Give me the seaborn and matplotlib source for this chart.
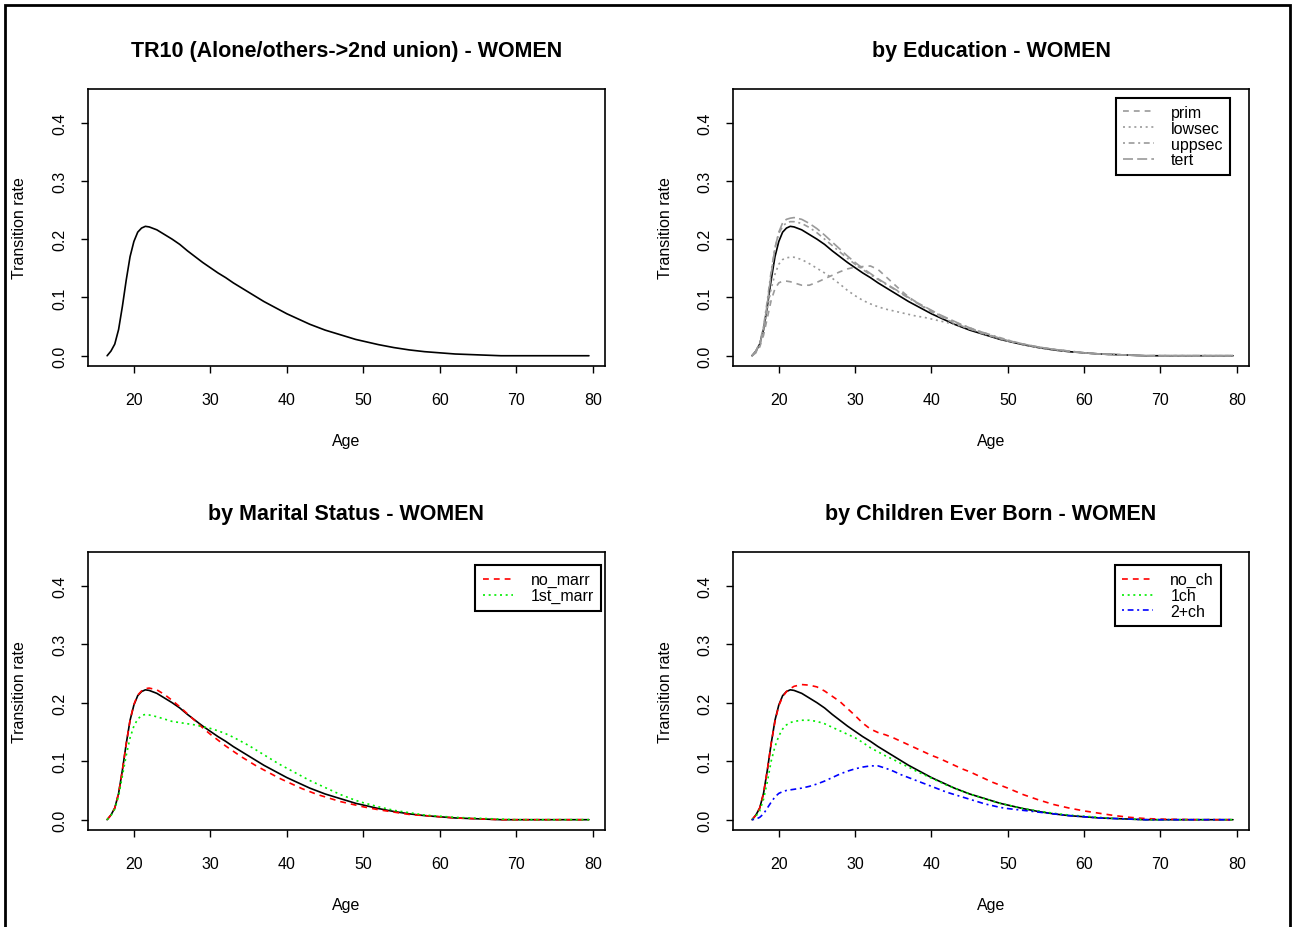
import numpy as np
import pandas as pd
import matplotlib
matplotlib.use("Agg")
import matplotlib.pyplot as plt
from matplotlib.patches import Rectangle
from matplotlib.lines import Line2D
import seaborn as sns

# ---------------- data ----------------
ages = [16.5, 17, 17.5, 18, 18.5, 19, 19.5, 20, 20.5, 21, 21.5, 22,
        23, 24, 25, 26, 27, 28, 29, 30, 31, 32, 33, 34, 35, 36, 37, 38, 39, 40,
        41, 42, 43, 44, 45, 46, 47, 48, 49, 50,
        52, 54, 56, 58, 60, 62, 64, 66, 68, 70, 75, 79.5]

total = [0.000, 0.008, 0.020, 0.045, 0.085, 0.130, 0.170, 0.196, 0.212, 0.219, 0.222, 0.221,
         0.216, 0.208, 0.200, 0.191, 0.180, 0.170, 0.160, 0.151, 0.142, 0.134, 0.125, 0.117,
         0.109, 0.101, 0.093, 0.086, 0.079, 0.072, 0.066, 0.060, 0.054, 0.049, 0.044, 0.040,
         0.036, 0.032, 0.028, 0.025, 0.019, 0.014, 0.010, 0.007, 0.005, 0.003, 0.002, 0.001,
         0.000, 0.000, 0.000, 0.000]

edu_prim = [0.000, 0.005, 0.015, 0.035, 0.065, 0.095, 0.115, 0.125, 0.128, 0.128, 0.127, 0.125,
            0.121, 0.121, 0.126, 0.132, 0.138, 0.144, 0.149, 0.152, 0.153, 0.154, 0.148, 0.136,
            0.124, 0.112, 0.101, 0.092, 0.083, 0.075, 0.068, 0.062, 0.056, 0.051, 0.046, 0.041,
            0.037, 0.033, 0.029, 0.026, 0.020, 0.015, 0.011, 0.008, 0.005, 0.003, 0.002, 0.001,
            0.000, 0.000, 0.000, 0.000]
edu_lowsec = [0.000, 0.006, 0.018, 0.042, 0.080, 0.115, 0.140, 0.157, 0.165, 0.168, 0.169, 0.169,
              0.165, 0.158, 0.150, 0.142, 0.133, 0.123, 0.112, 0.103, 0.095, 0.089, 0.084, 0.080,
              0.077, 0.074, 0.071, 0.068, 0.066, 0.063, 0.060, 0.057, 0.054, 0.050, 0.046, 0.042,
              0.037, 0.033, 0.029, 0.025, 0.019, 0.014, 0.010, 0.007, 0.005, 0.003, 0.002, 0.001,
              0.000, 0.000, 0.000, 0.000]
edu_uppsec = [0.000, 0.008, 0.022, 0.050, 0.095, 0.145, 0.185, 0.210, 0.222, 0.228, 0.230, 0.230,
              0.227, 0.220, 0.211, 0.200, 0.189, 0.178, 0.167, 0.157, 0.148, 0.139, 0.131, 0.123,
              0.115, 0.107, 0.099, 0.091, 0.084, 0.077, 0.070, 0.064, 0.058, 0.053, 0.048, 0.043,
              0.039, 0.035, 0.031, 0.027, 0.020, 0.015, 0.011, 0.008, 0.005, 0.003, 0.002, 0.001,
              0.000, 0.000, 0.000, 0.000]
edu_tert = [0.000, 0.008, 0.020, 0.045, 0.090, 0.140, 0.185, 0.212, 0.228, 0.234, 0.236, 0.237,
            0.234, 0.227, 0.218, 0.207, 0.195, 0.183, 0.171, 0.160, 0.150, 0.141, 0.132, 0.124,
            0.116, 0.108, 0.100, 0.092, 0.085, 0.078, 0.071, 0.065, 0.059, 0.053, 0.048, 0.043,
            0.039, 0.034, 0.030, 0.026, 0.020, 0.015, 0.011, 0.008, 0.005, 0.003, 0.002, 0.001,
            0.000, 0.000, 0.000, 0.000]

mar_no = [0.000, 0.008, 0.020, 0.045, 0.085, 0.130, 0.170, 0.197, 0.213, 0.220, 0.224, 0.225,
          0.222, 0.214, 0.204, 0.193, 0.181, 0.169, 0.157, 0.146, 0.136, 0.126, 0.117, 0.108,
          0.100, 0.092, 0.085, 0.078, 0.071, 0.065, 0.059, 0.053, 0.048, 0.043, 0.039, 0.035,
          0.031, 0.028, 0.025, 0.022, 0.017, 0.013, 0.009, 0.007, 0.005, 0.003, 0.002, 0.001,
          0.000, 0.000, 0.000, 0.000]
mar_first = [0.000, 0.007, 0.018, 0.040, 0.075, 0.110, 0.140, 0.160, 0.172, 0.178, 0.180, 0.179,
             0.176, 0.172, 0.168, 0.166, 0.164, 0.162, 0.159, 0.156, 0.152, 0.147, 0.141, 0.134,
             0.127, 0.119, 0.111, 0.103, 0.095, 0.088, 0.081, 0.074, 0.067, 0.061, 0.055, 0.049,
             0.043, 0.038, 0.033, 0.029, 0.022, 0.016, 0.012, 0.008, 0.006, 0.004, 0.003, 0.002,
             0.001, 0.000, 0.000, 0.000]

ch_no = [0.000, 0.008, 0.020, 0.045, 0.085, 0.130, 0.168, 0.195, 0.210, 0.219, 0.224, 0.228,
         0.231, 0.230, 0.227, 0.220, 0.211, 0.202, 0.190, 0.178, 0.165, 0.155, 0.149, 0.145,
         0.140, 0.134, 0.128, 0.122, 0.116, 0.110, 0.105, 0.099, 0.093, 0.087, 0.082, 0.076,
         0.070, 0.064, 0.059, 0.054, 0.043, 0.034, 0.026, 0.020, 0.015, 0.011, 0.007, 0.004,
         0.002, 0.001, 0.000, 0.000]
ch_one = [0.000, 0.006, 0.015, 0.035, 0.065, 0.100, 0.125, 0.143, 0.155, 0.162, 0.166, 0.168,
          0.170, 0.170, 0.168, 0.164, 0.158, 0.152, 0.146, 0.140, 0.132, 0.123, 0.116, 0.109,
          0.103, 0.096, 0.090, 0.083, 0.077, 0.071, 0.065, 0.059, 0.054, 0.049, 0.044, 0.040,
          0.036, 0.032, 0.028, 0.025, 0.019, 0.015, 0.011, 0.008, 0.006, 0.004, 0.002, 0.001,
          0.000, 0.000, 0.000, 0.000]
ch_two = [0.000, 0.001, 0.004, 0.010, 0.020, 0.030, 0.039, 0.045, 0.048, 0.050, 0.051, 0.052,
          0.054, 0.057, 0.061, 0.066, 0.072, 0.078, 0.083, 0.087, 0.090, 0.092, 0.092, 0.088,
          0.083, 0.077, 0.072, 0.067, 0.062, 0.057, 0.052, 0.047, 0.043, 0.039, 0.035, 0.031,
          0.027, 0.024, 0.021, 0.019, 0.016, 0.013, 0.010, 0.007, 0.005, 0.003, 0.002, 0.001,
          0.000, 0.000, 0.000, 0.000]

titles = ["TR10 (Alone/others->2nd union) - WOMEN", "by Education - WOMEN",
          "by Marital Status - WOMEN", "by Children Ever Born - WOMEN"]
edu_labels = ["prim", "lowsec", "uppsec", "tert"]
mar_labels = ["no_marr", "1st_marr"]
ch_labels = ["no_ch", "1ch", "2+ch"]
x_ticks = [20, 30, 40, 50, 60, 70, 80]
y_ticks = [0.0, 0.1, 0.2, 0.3, 0.4]

# ---------------- styling ----------------
sns.set_style("white")
plt.rcParams['font.family'] = ['Liberation Sans', 'DejaVu Sans']
plt.rcParams['text.color'] = 'black'
plt.rcParams['axes.labelcolor'] = 'black'
plt.rcParams['xtick.color'] = 'black'
plt.rcParams['ytick.color'] = 'black'

W, H = 1295, 928
fig = plt.figure(figsize=(W / 100, H / 100), dpi=100)

LW = 1.2
ls_dash = (0, (3.5, 3.0))
ls_dot = (0, (1.2, 2.2))
ls_dotdash = (0, (1.2, 2.2, 3.5, 2.2))
ls_long = (0, (6.0, 2.5))
GRAY = "#9a9a9a"

def px_axes(l, t, r, b):
    return fig.add_axes([l / W, 1 - b / H, (r - l) / W, (b - t) / H])

boxes = [(88, 90, 605, 367), (733, 90, 1249, 367),
         (88, 553, 605, 831), (733, 553, 1249, 831)]
axes = [px_axes(*b) for b in boxes]

def style_axis(ax, box, title):
    ax.set_xlim(14.0, 81.6)
    ax.set_ylim(-0.0176, 0.4576)
    ax.set_xticks(x_ticks)
    ax.set_xticklabels([str(v) for v in x_ticks])
    ax.set_yticks(y_ticks)
    ax.set_yticklabels(["%.1f" % v for v in y_ticks], rotation=90, va="center")
    ax.tick_params(axis="both", direction="out", length=5, width=1.0,
                   colors="black", labelsize=11.5, left=True, bottom=True)
    ax.tick_params(axis="x", pad=14)
    ax.tick_params(axis="y", pad=10)
    for s in ax.spines.values():
        s.set_color("black")
        s.set_linewidth(1.2)
        s.set_visible(True)
    ax.set_xlabel("")
    ax.set_ylabel("")
    l, t, r, b = box
    cx = (l + r) / 2
    fig.text(cx / W, 1 - (t - 38) / H, title, ha="center", va="center",
             fontsize=15.5, fontweight="bold", color="black")
    fig.text(cx / W, 1 - (b + 75) / H, "Age", ha="center", va="center",
             fontsize=11.5, color="black")
    fig.text((l - 68) / W, 1 - ((t + b) / 2) / H, "Transition rate", ha="center",
             va="center", rotation=90, fontsize=11.5, color="black")

def draw(ax, y, color, ls, lw=LW):
    sns.lineplot(x=ages, y=y, ax=ax, color=color, linestyle=ls, linewidth=lw,
                 estimator=None, sort=False, legend=False)

def add_legend(ax, labels, colors, styles, anchor):
    handles = [Line2D([0], [0], color=c, linestyle=s, linewidth=LW) for c, s in zip(colors, styles)]
    leg = ax.legend(handles, labels, loc="upper right", bbox_to_anchor=anchor,
                    frameon=True, fancybox=False, edgecolor="black", fontsize=11.5,
                    handlelength=1.9, handletextpad=1.1, labelspacing=0.05,
                    borderpad=0.45, borderaxespad=0.0)
    leg.get_frame().set_linewidth(1.5)
    leg.get_frame().set_alpha(1)
    for txt in leg.get_texts():
        txt.set_color("black")

# Panel 1
ax = axes[0]
draw(ax, total, "black", "-")
style_axis(ax, boxes[0], titles[0])

# Panel 2
ax = axes[1]
edu_series = [edu_prim, edu_lowsec, edu_uppsec, edu_tert]
edu_styles = [ls_dash, ls_dot, ls_dotdash, ls_long]
edu_colors = [GRAY, GRAY, GRAY, GRAY]
draw(ax, total, "black", "-")
for ys, c, s in zip(edu_series, edu_colors, edu_styles):
    draw(ax, ys, c, s)
style_axis(ax, boxes[1], titles[1])
add_legend(ax, edu_labels, edu_colors, edu_styles, (0.963, 0.968))

# Panel 3
ax = axes[2]
mar_colors = ["#ff0000", "#00ee00"]
mar_styles = [ls_dash, ls_dot]
draw(ax, total, "black", "-")
for ys, c, s in zip([mar_no, mar_first], mar_colors, mar_styles):
    draw(ax, ys, c, s)
style_axis(ax, boxes[2], titles[2])
add_legend(ax, mar_labels, mar_colors, mar_styles, (0.992, 0.953))

# Panel 4
ax = axes[3]
ch_colors = ["#ff0000", "#00ee00", "#0000ff"]
ch_styles = [ls_dash, ls_dot, ls_dotdash]
draw(ax, total, "black", "-")
for ys, c, s in zip([ch_no, ch_one, ch_two], ch_colors, ch_styles):
    draw(ax, ys, c, s)
style_axis(ax, boxes[3], titles[3])
add_legend(ax, ch_labels, ch_colors, ch_styles, (0.946, 0.953))

# outer frame
fig.patches.append(Rectangle((5 / W, -0.05), (1290 - 5) / W, 1 - 6 / H + 0.05,
                             transform=fig.transFigure, fill=False,
                             edgecolor="black", linewidth=2.0))

fig.savefig("out.png", dpi=100)
